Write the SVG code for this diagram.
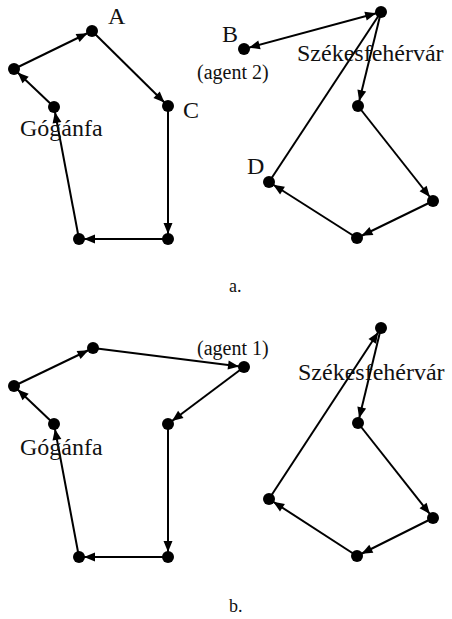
<svg xmlns="http://www.w3.org/2000/svg" width="452" height="619" viewBox="0 0 452 619">
  <style>
    .edge { stroke: #000; stroke-width: 2; fill: none; marker-end: url(#arrow); }
    .both { marker-start: url(#arrowStart); }
    .plain { marker-end: none; }
    .node { fill: #000; }
    .lbl { font-family: "Liberation Serif", "Times New Roman", serif; fill: #111; }
    .big { font-size: 24px; }
    .mid { font-size: 20px; }
    .cap { font-size: 18px; }
  </style>
  <defs>
    <!-- arrow tip sits on the rim of the target dot (radius ~6) -->
    <marker id="arrow" markerUnits="userSpaceOnUse" markerWidth="17" markerHeight="9" refX="16" refY="4.5" orient="auto" overflow="visible">
      <path d="M0,0 L11,4.5 L0,9 Z" fill="#000"/>
    </marker>
    <marker id="arrowStart" markerUnits="userSpaceOnUse" markerWidth="17" markerHeight="9" refX="16" refY="4.5" orient="auto-start-reverse" overflow="visible">
      <path d="M0,0 L11,4.5 L0,9 Z" fill="#000"/>
    </marker>
  </defs>

  <g id="connectors">
    <!-- a. left tour -->
    <line class="edge" x1="54" y1="107" x2="14" y2="69"/>
    <line class="edge" x1="14" y1="69" x2="92" y2="31"/>
    <line class="edge" x1="92" y1="31" x2="168" y2="106"/>
    <line class="edge" x1="168" y1="106" x2="168" y2="239"/>
    <line class="edge" x1="168" y1="239" x2="79" y2="239"/>
    <line class="edge" x1="79" y1="239" x2="54" y2="107"/>
    <!-- a. right tour -->
    <line class="edge both" x1="381" y1="12" x2="244" y2="49"/>
    <line class="edge" x1="381" y1="12" x2="358" y2="106"/>
    <line class="edge" x1="358" y1="106" x2="433" y2="201"/>
    <line class="edge" x1="433" y1="201" x2="357" y2="238"/>
    <line class="edge" x1="357" y1="238" x2="269" y2="182"/>
    <line class="edge plain" x1="269" y1="182" x2="381" y2="12"/>
    <!-- b. left tour -->
    <line class="edge" x1="54" y1="424" x2="14" y2="386"/>
    <line class="edge" x1="14" y1="386" x2="93" y2="348"/>
    <line class="edge" x1="93" y1="348" x2="244" y2="367"/>
    <line class="edge" x1="244" y1="367" x2="168" y2="424"/>
    <line class="edge" x1="168" y1="424" x2="168" y2="557"/>
    <line class="edge" x1="168" y1="557" x2="79" y2="557"/>
    <line class="edge" x1="79" y1="557" x2="54" y2="424"/>
    <!-- b. right tour -->
    <line class="edge" x1="381" y1="328" x2="358" y2="423"/>
    <line class="edge" x1="358" y1="423" x2="433" y2="518"/>
    <line class="edge" x1="433" y1="518" x2="357" y2="556"/>
    <line class="edge" x1="357" y1="556" x2="269" y2="499"/>
    <line class="edge" x1="269" y1="499" x2="381" y2="328"/>
  </g>

  <!-- a. -->
  <g id="a-gogan"><circle class="node" cx="54" cy="107" r="6"/><text class="lbl big" x="20" y="136">Gógánfa</text></g>
  <g id="a-west"><circle class="node" cx="14" cy="69" r="6"/></g>
  <g id="a-A"><circle class="node" cx="92" cy="31" r="6"/><text class="lbl big" x="108" y="24">A</text></g>
  <g id="a-C"><circle class="node" cx="168" cy="106" r="6"/><text class="lbl big" x="183" y="118">C</text></g>
  <g id="a-se"><circle class="node" cx="168" cy="239" r="6"/></g>
  <g id="a-sw"><circle class="node" cx="79" cy="239" r="6"/></g>
  <g id="a-B"><circle class="node" cx="244" cy="49" r="6"/><text class="lbl big" x="222" y="42">B</text><text class="lbl mid" x="197" y="79">(agent 2)</text></g>
  <g id="a-szekes"><circle class="node" cx="381" cy="12" r="6"/><text class="lbl big" x="297" y="61">Székesfehérvár</text></g>
  <g id="a-r1"><circle class="node" cx="358" cy="106" r="6"/></g>
  <g id="a-r2"><circle class="node" cx="433" cy="201" r="6"/></g>
  <g id="a-r3"><circle class="node" cx="357" cy="238" r="6"/></g>
  <g id="a-D"><circle class="node" cx="269" cy="182" r="6"/><text class="lbl big" x="247" y="174">D</text></g>
  <text class="lbl cap" x="229" y="292">a.</text>

  <!-- b. -->
  <g id="b-gogan"><circle class="node" cx="54" cy="424" r="6"/><text class="lbl big" x="20" y="455">Gógánfa</text></g>
  <g id="b-west"><circle class="node" cx="14" cy="386" r="6"/></g>
  <g id="b-top"><circle class="node" cx="93" cy="348" r="6"/></g>
  <g id="b-agent1"><circle class="node" cx="244" cy="367" r="6"/><text class="lbl mid" x="197" y="355">(agent 1)</text></g>
  <g id="b-C"><circle class="node" cx="168" cy="424" r="6"/></g>
  <g id="b-se"><circle class="node" cx="168" cy="557" r="6"/></g>
  <g id="b-sw"><circle class="node" cx="79" cy="557" r="6"/></g>
  <g id="b-szekes"><circle class="node" cx="381" cy="328" r="6"/><text class="lbl big" x="298" y="380">Székesfehérvár</text></g>
  <g id="b-r1"><circle class="node" cx="358" cy="423" r="6"/></g>
  <g id="b-r2"><circle class="node" cx="433" cy="518" r="6"/></g>
  <g id="b-r3"><circle class="node" cx="357" cy="556" r="6"/></g>
  <g id="b-left"><circle class="node" cx="269" cy="499" r="6"/></g>
  <text class="lbl cap" x="229" y="612">b.</text>
</svg>
